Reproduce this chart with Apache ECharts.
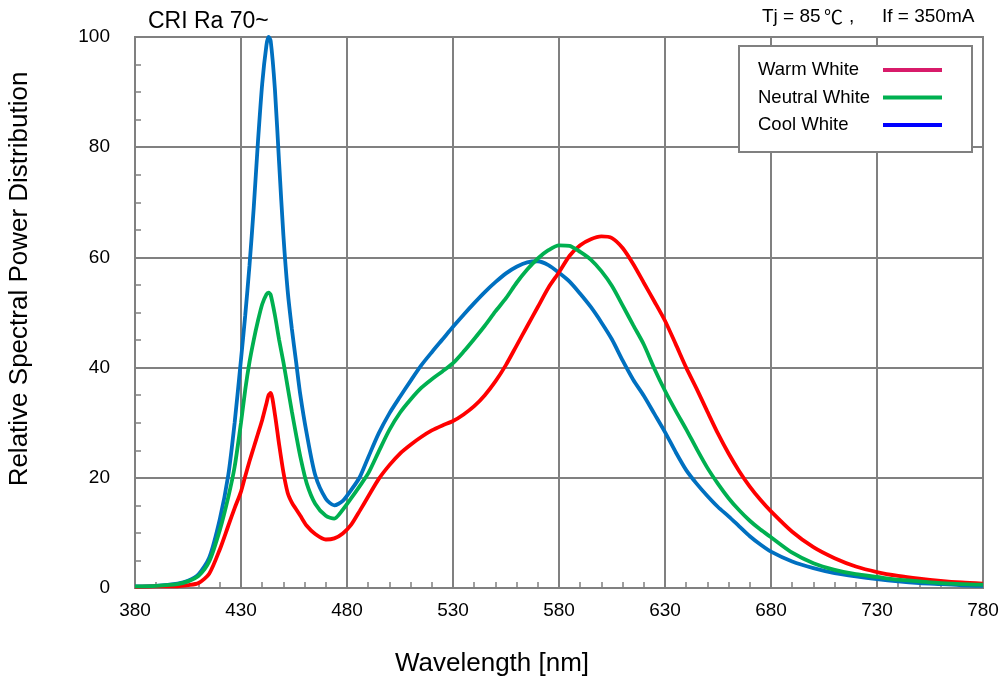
<!DOCTYPE html>
<html>
<head>
<meta charset="utf-8">
<script src="https://cdn.jsdelivr.net/npm/echarts@6/dist/echarts.min.js"></script>
<style>
html,body{margin:0;padding:0;background:#fff;}
#chart{width:1008px;height:684px;}
</style>
</head>
<body>
<div id="chart"></div>
<script>
// ---- data ----
const wavelengths = [380,390,400,405,410,415,420,
  424,427,430,432,434,436,438,440,442,443,444,446,448,450,452,454,456,458,461,465,470,474,478,482,486,490,495,
  500,505,510,515,520,525,530,535,540,545,550,555,560,565,570,575,580,585,590,595,600,605,610,615,620,625,630,635,640,645,650,655,660,665,670,675,680,
  690,700,710,720,730,740,750,760,770,780];

const coolWhite = [0.3,0.4,0.8,1.3,2.5,5.5,12.5,
  20.5,30,41.5,49.5,58.5,69,81,91.5,98.5,100,99.3,90.5,77,64,54,47,41,35,28,20.5,16.2,15,15.8,17.8,20.1,23.7,28.1,
  31.7,34.7,37.6,40.4,42.8,45.1,47.4,49.6,51.7,53.7,55.5,57.1,58.3,59.1,59.3,58.6,57.2,55.6,53.4,51,48.2,45.1,41.3,37.8,34.9,31.6,28.3,24.7,21.4,18.9,16.7,14.7,13,11.2,9.4,7.9,6.6,
  4.8,3.6,2.7,2.1,1.6,1.2,0.9,0.7,0.5,0.4];

const neutralWhite = [0.3,0.4,0.7,1.2,2.2,4.8,10.5,
  16.5,22,30,36,41,45,48.5,51.5,53.3,53.6,53.2,49.5,45,41,36.5,32,27.8,23.8,19,15.3,13.1,12.6,14.2,16.3,18.5,20.8,24.8,
  28.7,31.8,34.2,36.3,37.9,39.3,40.8,42.9,45.2,47.6,50.2,52.6,55.4,57.8,59.8,61.3,62.2,62.1,61,59.6,57.5,54.8,51.3,47.7,44.2,39.8,35.8,32.2,28.8,25.2,21.8,18.9,16.3,14.1,12.2,10.6,9.2,
  6.4,4.5,3.3,2.5,2.0,1.5,1.2,0.9,0.7,0.6];

const warmWhite = [0.2,0.3,0.3,0.5,0.9,2.6,7,
  11.3,14.5,17.5,20.3,23,25.5,28,30.5,33.5,35,35.4,31.5,26,21,17.3,15.5,14.3,13.1,11.3,9.8,8.8,9,9.9,11.5,14,16.6,19.8,
  22.3,24.4,26,27.4,28.6,29.5,30.3,31.5,33,35,37.5,40.5,44,47.5,51,54.5,57.3,60.3,62.2,63.3,63.8,63.5,61.7,58.8,55.4,52,48.5,44.3,40,36.1,32,28,24.4,21.2,18.4,16,13.9,
  10.2,7.4,5.4,3.9,2.9,2.2,1.7,1.3,1.0,0.8];

const legendNames = ['Warm White','Neutral White','Cool White'];
const legendColors = ['#D81B6A','#00B050','#0000FF'];

// ---- chart ----
const FONT = '"Liberation Sans", Arial, sans-serif';
const CJK = '"Noto Sans CJK JP", "Noto Sans CJK SC", sans-serif';
const GRAY = '#808080';
function pairs(vals){ return wavelengths.map((w,i)=>[w, vals[i]]); }

const chart = echarts.init(document.getElementById('chart'));

function mkSeries(name, vals, color){
  return {
    name, type:'line', data: pairs(vals), showSymbol:false, symbol:'none',
    smooth:0.25,
    lineStyle:{color, width:3.8}, itemStyle:{color}, z:3
  };
}

const legendGraphics = [{
  type:'rect', left:738, top:45, z:10,
  shape:{width:233, height:106},
  style:{fill:'#fff', stroke:GRAY, lineWidth:2}
}];
legendNames.forEach((n,i)=>{
  const y = 70 + i*27.5;
  legendGraphics.push({type:'text', x:758, y:y, z:11,
    style:{text:n, font:'18.5px '+FONT, fill:'#000', textVerticalAlign:'middle'}});
  legendGraphics.push({type:'line', z:11,
    shape:{x1:883, y1:y, x2:942, y2:y},
    style:{stroke:legendColors[i], lineWidth:4}});
});

const T = (text, x, y, font, extra) => Object.assign({type:'text', x, y,
  style:Object.assign({text, font, fill:'#000', textVerticalAlign:'middle'}, extra || {})});

chart.setOption({
  animation:false,
  backgroundColor:'#fff',
  grid:{left:135, right:25, top:37, bottom:96, show:true, borderColor:GRAY, borderWidth:2},
  xAxis:{
    type:'value', min:380, max:780, interval:50,
    axisLine:{show:true, lineStyle:{color:GRAY, width:2}},
    axisTick:{show:true, inside:true, length:6, lineStyle:{color:GRAY, width:1.5}},
    minorTick:{show:true, splitNumber:5, length:6, lineStyle:{color:GRAY, width:1.5}},
    splitLine:{show:true, lineStyle:{color:GRAY, width:2}},
    axisLabel:{color:'#000', fontSize:19, fontFamily:FONT, margin:13}
  },
  yAxis:{
    type:'value', min:0, max:100, interval:20,
    axisLine:{show:true, lineStyle:{color:GRAY, width:2}},
    axisTick:{show:true, inside:true, length:6, lineStyle:{color:GRAY, width:1.5}},
    minorTick:{show:true, splitNumber:4, length:6, lineStyle:{color:GRAY, width:1.5}},
    splitLine:{show:true, lineStyle:{color:GRAY, width:2}},
    axisLabel:{color:'#000', fontSize:19, fontFamily:FONT, margin:25}
  },
  series:[
    mkSeries('Cool White', coolWhite, '#0070C0'),
    mkSeries('Warm White', warmWhite, '#FF0000'),
    mkSeries('Neutral White', neutralWhite, '#00B050')
  ],
  graphic:[
    T('CRI Ra 70~', 148, 22, '23px '+FONT),
    T('Tj = 85', 762, 17, '19px '+FONT),
    T('\u2103', 824, 17, '19px '+CJK),
    T(',', 849, 17, '19px '+FONT),
    T('If = 350mA', 882, 17, '19px '+FONT),
    T('Wavelength [nm]', 492, 664, '26px '+FONT, {textAlign:'center'}),
    Object.assign(T('Relative Spectral Power Distribution', 20, 279, '26px '+FONT, {textAlign:'center'}), {rotation:Math.PI/2})
  ].concat(legendGraphics)
});
</script>
</body>
</html>
